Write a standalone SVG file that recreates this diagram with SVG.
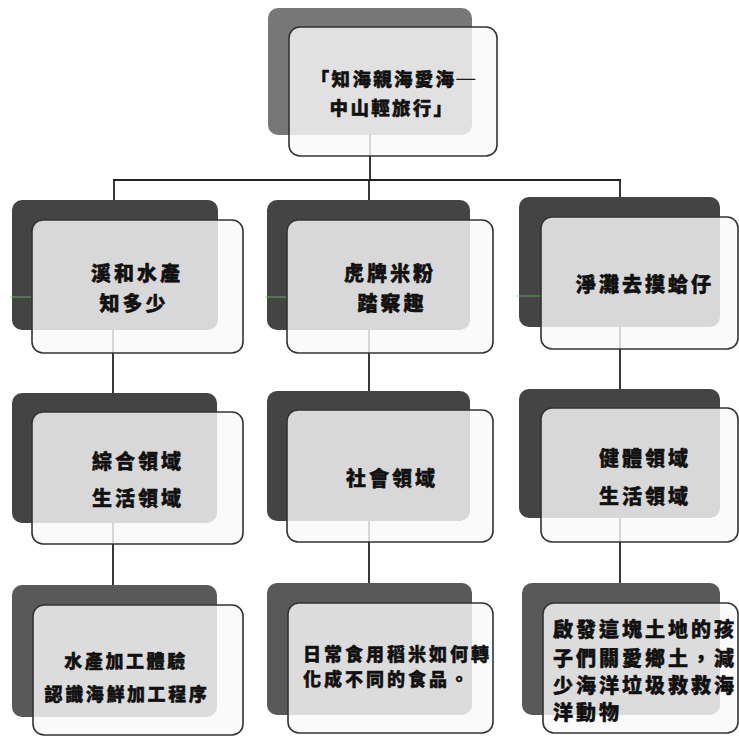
<svg xmlns="http://www.w3.org/2000/svg" width="739" height="736" viewBox="0 0 739 736">
<style>
.bg{fill:#ffffff}
.back{fill:#444444}
.back-top{fill:#777777}
.back-low{fill:#595959}
.front{fill:#f9f9f9;fill-opacity:0.82;stroke:#333;stroke-width:1.6}
.conn{stroke:#222;stroke-width:1.8;fill:none}
.art{stroke:#7cc47c;stroke-width:1;opacity:0.7}
text{font-family:"Noto Sans CJK TC","Noto Sans CJK SC",sans-serif;font-weight:900;fill:#111;stroke:#111;stroke-width:0.45;dominant-baseline:central}
.c{text-anchor:middle}
.s20{font-size:20px;letter-spacing:3px}
.s19{font-size:18.5px;letter-spacing:2.3px}
.s18{font-size:18px;letter-spacing:2.6px}
</style>
<rect class="bg" x="0" y="0" width="739" height="736"/>
<g id="connectors">
<line class="conn" x1="370" y1="80" x2="370" y2="180"/>
<line class="conn" x1="113" y1="180" x2="621" y2="180"/>
<line class="conn" x1="114" y1="179" x2="114" y2="265"/>
<line class="conn" x1="369" y1="179" x2="369" y2="265"/>
<line class="conn" x1="620" y1="179" x2="620" y2="265"/>
<line class="conn" x1="113" y1="265" x2="113" y2="460"/>
<line class="conn" x1="369" y1="265" x2="369" y2="460"/>
<line class="conn" x1="620" y1="265" x2="620" y2="460"/>
<line class="conn" x1="113" y1="460" x2="113" y2="650"/>
<line class="conn" x1="369" y1="460" x2="369" y2="650"/>
<line class="conn" x1="620" y1="460" x2="620" y2="650"/>
</g>
<g id="n0">
<rect class="back-top" x="268" y="8" width="204" height="127" rx="10"/>
<rect class="front" x="289" y="27" width="208" height="129" rx="11"/>
<text class="c s19" x="394" y="78">「知海親海愛海─</text>
<text class="c s19" x="392" y="107">中山輕旅行」</text>
</g>
<g id="n1">
<rect class="back" x="12" y="200" width="206" height="130" rx="10"/>
<line class="art" x1="10" y1="297" x2="34" y2="297"/>
<rect class="front" x="32" y="220" width="211" height="133" rx="11"/>
<text class="c s20" x="137" y="272">溪和水產</text>
<text class="c s20" x="134" y="302">知多少</text>
</g>
<g id="n2">
<rect class="back" x="267" y="200" width="203" height="130" rx="10"/>
<line class="art" x1="265" y1="297" x2="289" y2="297"/>
<rect class="front" x="287" y="220" width="206" height="133" rx="11"/>
<text class="c s20" x="390" y="272">虎牌米粉</text>
<text class="c s20" x="392" y="302">踏察趣</text>
</g>
<g id="n3">
<rect class="back" x="519" y="197" width="201" height="130" rx="10"/>
<line class="art" x1="517" y1="296" x2="543" y2="296"/>
<rect class="front" x="541" y="217" width="197" height="132" rx="11"/>
<text class="c s20" x="645" y="283">淨灘去摸蛤仔</text>
</g>
<g id="n4">
<rect class="back" x="12" y="393" width="205" height="130" rx="10"/>
<rect class="front" x="32" y="412" width="211" height="132" rx="11"/>
<text class="c s20" x="138" y="460">綜合領域</text>
<text class="c s20" x="138" y="497">生活領域</text>
</g>
<g id="n5">
<rect class="back" x="267" y="391" width="203" height="130" rx="10"/>
<rect class="front" x="287" y="410" width="206" height="132" rx="11"/>
<text class="c s20" x="392" y="477">社會領域</text>
</g>
<g id="n6">
<rect class="back" x="519" y="389" width="201" height="129" rx="10"/>
<rect class="front" x="541" y="408" width="197" height="134" rx="11"/>
<text class="c s20" x="645" y="457">健體領域</text>
<text class="c s20" x="645" y="495">生活領域</text>
</g>
<g id="n7">
<rect class="back-low" x="12" y="585" width="205" height="132" rx="10"/>
<rect class="front" x="33" y="605" width="210" height="130" rx="11"/>
<text class="c s18" x="126" y="660">水產加工體驗</text>
<text class="c s18" x="127" y="693">認識海鮮加工程序</text>
</g>
<g id="n8">
<rect class="back-low" x="267" y="583" width="205" height="132" rx="10"/>
<rect class="front" x="288" y="603" width="205" height="130" rx="11"/>
<text class="s18" x="303" y="653" style="letter-spacing:3px">日常食用稻米如何轉</text>
<text class="s18" x="303" y="678" style="letter-spacing:3px">化成不同的食品。</text>
</g>
<g id="n9">
<rect class="back-low" x="522" y="583" width="198" height="132" rx="10"/>
<rect class="front" x="543" y="603" width="195" height="130" rx="11"/>
<text class="s20" x="553" y="628" style="letter-spacing:3px">啟發這塊土地的孩</text>
<text class="s20" x="553" y="657" style="letter-spacing:3px">子們關愛鄉土，減</text>
<text class="s20" x="553" y="684" style="letter-spacing:3px">少海洋垃圾救救海</text>
<text class="s20" x="553" y="711" style="letter-spacing:3px">洋動物</text>
</g>
</svg>
